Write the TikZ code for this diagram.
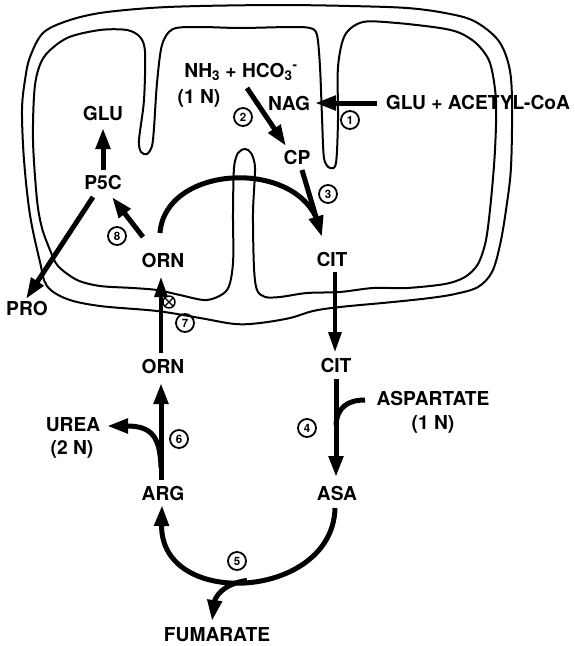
\documentclass[tikz,border=0pt]{standalone}
\usepackage{fontspec}
\setmainfont{TeX Gyre Heros}
\usetikzlibrary{arrows.meta,calc}
\tikzset{
  lbl/.style={font=\fontsize{19.2}{21}\selectfont\bfseries, inner sep=0pt},
  num/.style={circle, draw, line width=1.8pt, minimum size=18pt, inner sep=0pt, font=\fontsize{11.5}{11.5}\selectfont\bfseries},
  memb/.style={line width=2pt, line join=round},
  arr/.style={line width=5pt, -{Triangle[length=21pt,width=14pt]}},
  arrthin/.style={line width=3.2pt, -{Triangle[length=20pt,width=13pt]}},
  flow/.style={line width=5pt},
}
\begin{document}
\begin{tikzpicture}[x=1pt,y=-1pt]
\path[fill=white,use as bounding box] (0,0) rectangle (574,646);

% outer membrane
\draw[memb] plot[smooth cycle, tension=0.55] coordinates {
 (30,57) (43,33) (67,21) (100,13) (150,8) (200,6) (280,5) (350,6) (407,8)
 (445,13) (474,21) (498,40) (509,66) (512,100) (511,167) (506,210) (500,245)
 (492,272) (478,287) (455,294) (430,298) (393,302) (340,307) (313,311)
 (290,318) (260,323) (235,324) (200,318) (157,311) (100,306) (67,299)
 (47,286) (40,262) (30,215) (24,160) (22,110) (25,80)};

% inner membrane with cristae
\draw[memb] plot[smooth cycle, tension=0.5] coordinates {
 (37,200) (33,140) (35,85) (44,57) (67,38) (100,30) (127,30) (140,37) (145,52)
 (144,100) (139,140) (141,152) (147,154) (152,146) (154,128) (157,83) (162,45)
 (173,29) (200,27) (240,28) (290,27) (310,28) (317,35) (320,67) (322,117)
 (324,158) (330,168) (336,163) (338,120) (338,67) (345,35) (363,22) (397,23)
 (440,28) (460,33) (477,44) (490,63) (496,100) (495,150) (491,200) (486,240)
 (478,264) (465,277) (445,284) (407,288) (373,288) (340,292) (307,293)
 (280,297) (265,297) (257,290) (254,268) (253,213) (255,168) (251,153)
 (245,149) (238,153) (234,168) (233,213) (233,263) (227,290) (207,300)
 (180,295) (157,290) (133,288) (100,286) (77,280) (58,266) (50,250) (42,228)};

% labels
\node[lbl] (nh3) at (241,72) {NH\textsubscript{3} + HCO\textsubscript{3}\textsuperscript{-}};
\node[lbl] (n1N) at (199,98) {(1 N)};
\node[lbl] (nag) at (289,103) {NAG};
\node[lbl] (glac) at (478,102) {GLU + ACETYL-CoA};
\node[lbl] (glu) at (103,113) {GLU};
\node[lbl] (cp) at (297,157) {CP};
\node[lbl] (p5c) at (103,182) {P5C};
\node[lbl] (ornm) at (163,260) {ORN};
\node[lbl] (citm) at (332,259) {CIT};
\node[lbl] (pro) at (27,308) {PRO};
\node[lbl] (orn) at (163,366) {ORN};
\node[lbl] (cit) at (336,365) {CIT};
\node[lbl] (asp) at (433,398) {ASPARTATE};
\node[lbl] (asp1n) at (433,424) {(1 N)};
\node[lbl] (urea) at (73,425) {UREA};
\node[lbl] (urea2n) at (72,449) {(2 N)};
\node[lbl] (arg) at (163,493) {ARG};
\node[lbl] (asa) at (337,493) {ASA};
\node[lbl] (fum) at (217,635) {FUMARATE};

% numbered circles
\node[num] (c1) at (350,120) {1};
\node[num] (c2) at (243,117) {2};
\node[num] (c3) at (328,194) {3};
\node[num] (c4) at (307,428) {4};
\node[num] (c5) at (237,561) {5};
\node[num] (c6) at (179,439) {6};
\node[num] (c7) at (185,323) {7};
\node[num] (c8) at (117,236) {8};
\node[circle, draw, line width=1.4pt, minimum size=12pt, inner sep=0pt] (ox) at (169,302) {};
\draw[line width=1.4pt] (ox.north west) -- (ox.south east) (ox.north east) -- (ox.south west);

% reaction 1
\draw[arr] ([shift={(-101,1)}]glac.center) -- ([shift={(26,0)}]nag.center);
% reaction 2
\draw[arr] ([shift={(6,16)}]nh3.center) -- ([shift={(-11,-11)}]cp.center);
% ornithine arc joining reaction 3
\draw[flow] ([shift={(-3,-27)}]ornm.center) .. controls (165,165) and (295,158) .. ([shift={(-14,-37)}]citm.center);
% reaction 3
\draw[arr] ([shift={(5,13)}]cp.center) -- ([shift={(-10,-22)}]citm.center);
% citrulline export
\draw[arrthin] ([shift={(3,13)}]citm.center) -- ([shift={(-1,-13)}]cit.center);
% reaction 4
\draw[arr] ([shift={(0,14)}]cit.center) -- ([shift={(-1,-16)}]asa.center);
\draw[flow] ([shift={(-68,2)}]asp.center) .. controls (347,400) and (337,408) .. ([shift={(-1,-68)}]asa.center);
% reaction 5
\draw[arr] ([shift={(-2,15)}]asa.center) .. controls (333,600) and (160,610) .. coordinate[pos=0.5] (c5mid) ([shift={(-1,12)}]arg.center);
\draw[arr] (c5mid) .. controls (222,584) and (215,598) .. ([shift={(-5,-14)}]fum.center);
% reaction 6
\draw[arr] ([shift={(-2,-13)}]arg.center) -- coordinate[pos=0.13] (c6a) ([shift={(-2,17)}]orn.center);
\draw[arr] (c6a) .. controls (160,437) and (152,426) .. ([shift={(34,1)}]urea.center);
% ornithine import (7)
\draw[arrthin] ([shift={(-2,-13)}]orn.center) -- ([shift={(-2,17)}]ornm.center);
% reaction 8
\draw[arr] ([shift={(-20,-23)}]ornm.center) -- ([shift={(9,15)}]p5c.center);
% P5C to GLU
\draw[arr] ([shift={(0,-12)}]p5c.center) -- ([shift={(0,15)}]glu.center);
% P5C to PRO
\draw[arr] ([shift={(-10,15)}]p5c.center) -- ([shift={(-1,-9)}]pro.center);
\end{tikzpicture}
\end{document}
